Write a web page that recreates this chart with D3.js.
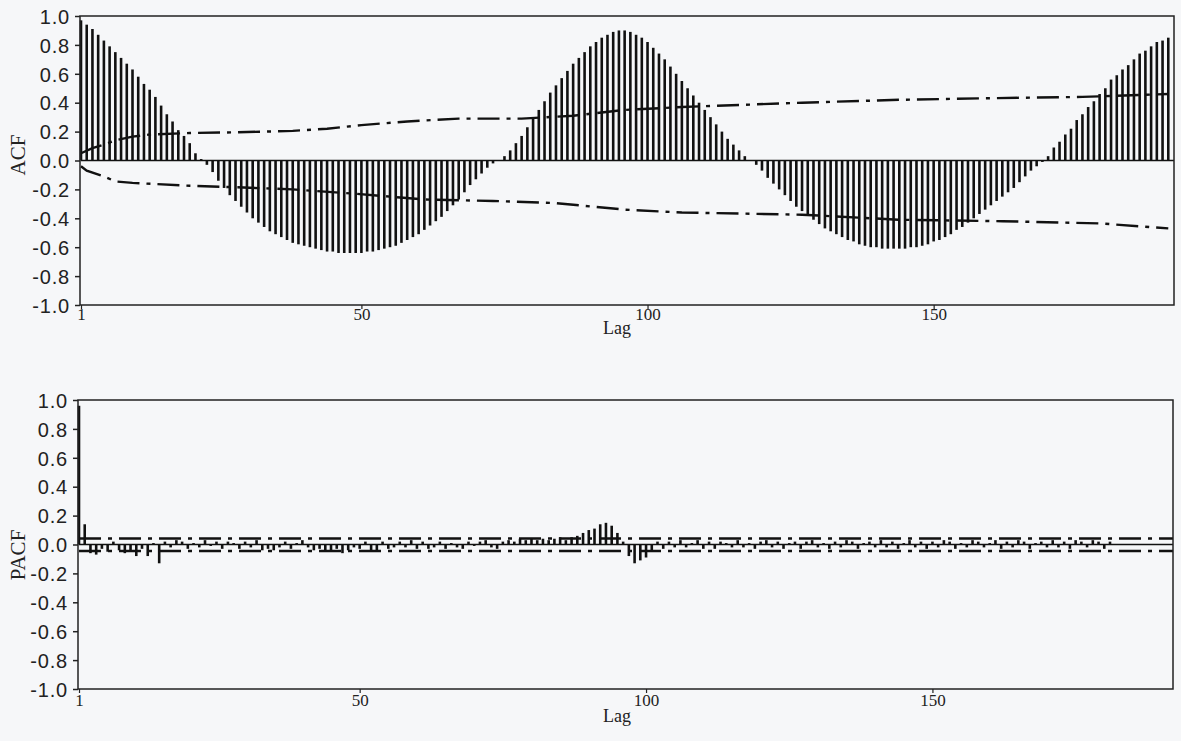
<!DOCTYPE html>
<html>
<head>
<meta charset="utf-8">
<script src="https://cdn.jsdelivr.net/npm/d3@7"></script>
<style>
  body { margin: 0; background: #f6f7f9; }
  svg { display: block; }
  .ylab text { font-family: "Liberation Sans", Arial, sans-serif; font-size: 20px; letter-spacing: 0.8px; fill: #222; }
  .xlab text { font-family: "Liberation Serif", "Times New Roman", serif; font-size: 17px; fill: #222; }
  .title { font-family: "Liberation Serif", "Times New Roman", serif; font-size: 21px; fill: #222; }
  .lag { font-family: "Liberation Serif", "Times New Roman", serif; font-size: 18px; fill: #222; }
</style>
</head>
<body>
<svg width="1181" height="741"></svg>
<script>
// ACF values, lag 1..191
var acf = [
  0.97, 0.94, 0.91, 0.87, 0.83, 0.79, 0.75, 0.71, 0.67, 0.63, 0.58, 0.53, 0.49, 0.44, 0.38, 0.32, 0.27, 0.21, 0.17, 0.12, 0.05, 0.01,
  -0.03, -0.08, -0.14, -0.19, -0.24, -0.28, -0.32, -0.36, -0.40, -0.43, -0.46, -0.49, -0.51, -0.53, -0.55,
  -0.57, -0.58, -0.59, -0.60, -0.61, -0.62, -0.63, -0.63, -0.64, -0.64, -0.64, -0.64, -0.64, -0.63, -0.63,
  -0.62, -0.61, -0.60, -0.59, -0.57, -0.55, -0.53, -0.51, -0.48, -0.45, -0.42, -0.39, -0.35, -0.31, -0.27,
  -0.22, -0.17, -0.13, -0.09, -0.05, -0.02, 0.00,
  0.03, 0.07, 0.12, 0.17, 0.23, 0.29, 0.35, 0.41, 0.47, 0.52, 0.57, 0.62, 0.67, 0.71, 0.75, 0.79,
  0.82, 0.85, 0.87, 0.89, 0.90, 0.90, 0.89, 0.87, 0.85, 0.82, 0.78, 0.74, 0.70, 0.65, 0.60,
  0.55, 0.50, 0.45, 0.40, 0.35, 0.30, 0.25, 0.20, 0.15, 0.11, 0.07, 0.03, 0.00,
  -0.03, -0.07, -0.12, -0.16, -0.20, -0.24, -0.28, -0.32, -0.35, -0.38, -0.41, -0.44, -0.47, -0.49, -0.51,
  -0.53, -0.55, -0.56, -0.58, -0.59, -0.60, -0.60, -0.61, -0.61, -0.61, -0.61, -0.61, -0.60, -0.60, -0.59,
  -0.58, -0.56, -0.55, -0.53, -0.51, -0.48, -0.46, -0.43, -0.40, -0.37, -0.34, -0.31, -0.28, -0.25, -0.22,
  -0.19, -0.15, -0.11, -0.07, -0.04, -0.01,
  0.03, 0.09, 0.13, 0.18, 0.22, 0.28, 0.32, 0.37, 0.41, 0.46, 0.50, 0.56, 0.59, 0.63, 0.66, 0.70,
  0.74, 0.76, 0.79, 0.82, 0.83, 0.85
];

// confidence bands of the ACF
var acfUpLags = [1, 3, 5, 7, 10, 13, 20, 28, 38, 44, 50, 58, 67, 78, 87, 96, 106, 127, 144, 158, 176, 191];
var acfUp     = [0.05, 0.085, 0.11, 0.14, 0.165, 0.18, 0.19, 0.195, 0.205, 0.22, 0.245, 0.27, 0.29, 0.29, 0.31, 0.35, 0.37, 0.40, 0.42, 0.43, 0.44, 0.46];
var acfLoLags = [1, 2, 5, 7, 10, 20, 28, 38, 49, 61, 73, 84, 96, 106, 127, 144, 162, 179, 191];
var acfLo     = [-0.04, -0.07, -0.11, -0.145, -0.155, -0.175, -0.185, -0.2, -0.23, -0.27, -0.28, -0.295, -0.34, -0.36, -0.375, -0.41, -0.42, -0.435, -0.47];

// PACF values, lag 1..191
var pacf = [
  0.96, 0.14, -0.06, -0.07, -0.03, -0.05, 0.02, -0.04, -0.06, -0.05, -0.08, -0.03, -0.08, 0.01, -0.13,
  0.02, -0.02, 0.03, 0.02, -0.03, 0.01, -0.02, 0.03, -0.01, 0.02, -0.03, 0.02, 0.01, -0.03, 0.02,
  -0.02, 0.03, -0.04, -0.03, -0.04, -0.02, 0.02, -0.03, 0.01, 0.03, -0.02, -0.04, -0.03, -0.05, -0.04,
  -0.03, -0.06, -0.04, -0.02, -0.03, 0.02, -0.05, -0.04, 0.02, -0.03, -0.02, 0.02, -0.02, 0.03, -0.03,
  0.02, -0.03, -0.02, 0.02, -0.03, 0.01, -0.02, -0.03, 0.02, -0.01, 0.02, 0.03, -0.02, -0.03, 0.02,
  0.03, 0.02, 0.04, 0.03, 0.04, 0.03, 0.04, 0.03, 0.04, 0.05, 0.03, 0.05, 0.06, 0.08, 0.10,
  0.11, 0.14, 0.15, 0.13, 0.08, 0.02, -0.08, -0.13, -0.11, -0.09, -0.05, 0.02, -0.03, 0.02, -0.02,
  0.03, -0.02, 0.01, 0.03, -0.03, 0.02, -0.03, 0.02, 0.01, -0.02, 0.03, -0.02, 0.01, -0.03, 0.02,
  0.03, -0.02, 0.02, -0.03, 0.01, 0.02, -0.03, 0.02, 0.03, -0.02, 0.01, -0.03, 0.02, -0.02, 0.03,
  0.02, -0.03, 0.01, 0.02, -0.02, 0.03, -0.02, 0.02, -0.03, 0.01, 0.03, -0.02, 0.02, -0.03, 0.02,
  -0.02, 0.03, 0.02, -0.03, 0.01, -0.02, 0.03, 0.02, -0.02, 0.01, 0.03, -0.03, 0.02, -0.02, 0.03,
  0.02, -0.03, 0.01, 0.02, -0.02, 0.03, -0.02, 0.02, -0.03, 0.03, 0.02, -0.02, 0.03, 0.02, -0.03,
  0.02
];
var pacfBandUp = 0.042;
var pacfBandLo = -0.045;

var lagTicks = [1, 50, 100, 150];
var yTicks = [-1.0, -0.8, -0.6, -0.4, -0.2, 0.0, 0.2, 0.4, 0.6, 0.8, 1.0];

var svg = d3.select('svg');
var dash = '22,7,4,7';

var drawPanel = function(cfg) {
  var x = d3.scaleLinear().domain([1, 192]).range([cfg.left, cfg.right]);
  var y = d3.scaleLinear().domain([-1, 1]).range([cfg.bottom, cfg.top]);
  var g = svg.append('g');

  // bars
  g.selectAll('line.bar')
    .data(cfg.values)
    .enter()
    .append('line')
    .attr('x1', function(d, i) { return x(i + 1); })
    .attr('x2', function(d, i) { return x(i + 1); })
    .attr('y1', y(0))
    .attr('y2', function(d) { return y(d); })
    .attr('stroke', '#111')
    .attr('stroke-width', 2.6);

  // zero line
  g.append('line')
    .attr('x1', cfg.left).attr('x2', cfg.right)
    .attr('y1', y(0)).attr('y2', y(0))
    .attr('stroke', '#111').attr('stroke-width', 1.5);

  // bands
  cfg.bands.forEach(function(b) {
    var line = d3.line()
      .x(function(d) { return x(d[0]); })
      .y(function(d) { return y(d[1]); });
    g.append('path')
      .datum(d3.zip(b.lags, b.vals))
      .attr('d', line)
      .attr('fill', 'none')
      .attr('stroke', '#111')
      .attr('stroke-width', 2.4)
      .attr('stroke-dasharray', dash);
  });

  // frame
  g.append('rect')
    .attr('x', cfg.left - 1).attr('y', cfg.top)
    .attr('width', cfg.right - cfg.left + 1).attr('height', cfg.bottom - cfg.top)
    .attr('fill', 'none').attr('stroke', '#222').attr('stroke-width', 1.5);

  // y axis
  var ya = g.append('g')
    .attr('class', 'ylab')
    .attr('transform', 'translate(' + (cfg.left - 1) + ',0)')
    .call(d3.axisLeft(y).tickValues(yTicks)
      .tickFormat(function(d) { return d.toFixed(1); })
      .tickSize(5).tickPadding(5));
  ya.select('.domain').remove();
  ya.selectAll('line').attr('stroke', '#222').attr('stroke-width', 1.5);
  ya.selectAll('text').attr('dy', '0.36em');

  // x axis
  var xa = g.append('g')
    .attr('class', 'xlab')
    .attr('transform', 'translate(0,' + cfg.bottom + ')')
    .call(d3.axisBottom(x).tickValues(lagTicks).tickFormat(d3.format('d')).tickSize(4).tickPadding(cfg.xPad));
  xa.select('.domain').remove();
  xa.selectAll('line').attr('stroke', '#222').attr('stroke-width', 1.2);

  g.append('text')
    .attr('class', 'lag')
    .attr('x', 617).attr('y', cfg.bottom + cfg.lagDy)
    .attr('text-anchor', 'middle')
    .text('Lag');

  g.append('text')
    .attr('class', 'title')
    .attr('transform', 'translate(' + cfg.ylabX + ',' + cfg.ylabY + ') rotate(-90)')
    .attr('text-anchor', 'middle')
    .text(cfg.name);
};

drawPanel({
  name: 'ACF', values: acf,
  left: 81, right: 1174, top: 16, bottom: 305, ylabX: 25, ylabY: 155, xPad: -1, lagDy: 29,
  bands: [{ lags: acfUpLags, vals: acfUp }, { lags: acfLoLags, vals: acfLo }]
});

drawPanel({
  name: 'PACF', values: pacf,
  left: 79, right: 1173, top: 400, bottom: 689, ylabX: 25, ylabY: 555, xPad: 1, lagDy: 33,
  bands: [{ lags: [1, 192], vals: [pacfBandUp, pacfBandUp] }, { lags: [1, 192], vals: [pacfBandLo, pacfBandLo] }]
});
</script>
</body>
</html>
